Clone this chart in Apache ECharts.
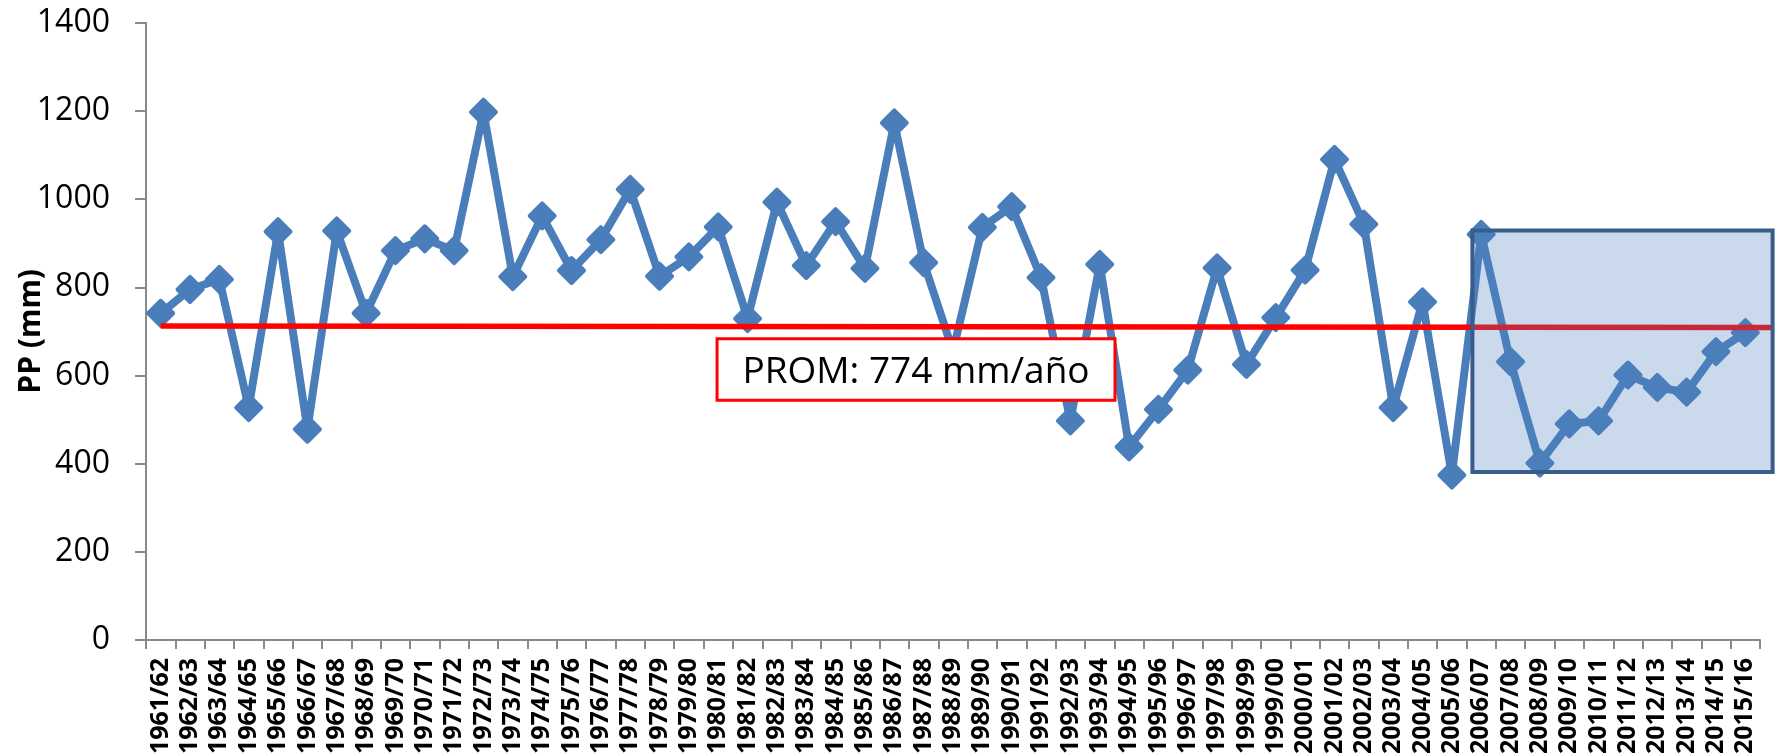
<!DOCTYPE html>
<html>
<head>
<meta charset="utf-8">
<script src="https://cdn.jsdelivr.net/npm/echarts@6/dist/echarts.min.js"></script>
<style>html,body{margin:0;padding:0;background:#fff;}#c{width:1777px;height:756px;}</style>
</head>
<body>
<div id="c"></div>
<script>
const categories = ['1961/62','1962/63','1963/64','1964/65','1965/66','1966/67','1967/68','1968/69','1969/70','1970/71',
  '1971/72','1972/73','1973/74','1974/75','1975/76','1976/77','1977/78','1978/79','1979/80','1980/81',
  '1981/82','1982/83','1983/84','1984/85','1985/86','1986/87','1987/88','1988/89','1989/90','1990/91',
  '1991/92','1992/93','1993/94','1994/95','1995/96','1996/97','1997/98','1998/99','1999/00','2000/01',
  '2001/02','2002/03','2003/04','2004/05','2005/06','2006/07','2007/08','2008/09','2009/10','2010/11',
  '2011/12','2012/13','2013/14','2014/15','2015/16'];
const ppValues = [741,795,818,527,926,478,928,741,883,910,
  883,1197,824,962,838,908,1022,825,869,937,
  729,993,849,949,843,1173,856,655,936,983,
  822,497,852,438,523,612,844,625,731,839,
  1090,943,527,767,374,920,631,401,490,497,
  601,573,562,654,697];
const yMin = 0, yMax = 1400, yStep = 200;
const yAxisName = 'PP (mm)';
const avgLabel = 'PROM: 774 mm/año';
// annotation anchors in data space: [category index, value]
const trendLineStart = [0, 712];
const trendLineEnd = [54.9, 709];
const highlightX = [44.7, 54.93];
const highlightY = [381, 929];
const avgBoxX = [18.96, 32.52];
const avgBoxY = [544, 683];

const chart = echarts.init(document.getElementById('c'), null, {renderer: 'canvas', width: 1777, height: 756});
const axisGray = '#8a8a8a';
const blue = '#4A7EBB';
chart.setOption({
  animation: false,
  backgroundColor: '#ffffff',
  grid: {left: 146, right: 17, top: 22.7, bottom: 116, containLabel: false, outerBoundsMode: 'none'},
  xAxis: {
    type: 'category',
    data: categories,
    boundaryGap: true,
    axisLine: {show: true, lineStyle: {color: axisGray, width: 2}},
    axisTick: {show: true, length: 9, interval: 0, lineStyle: {color: axisGray, width: 2}},
    axisLabel: {interval: 0, rotate: 90, margin: 18, color: '#000', fontFamily: 'Open Sans', fontWeight: 'bold', fontSize: 25},
    splitLine: {show: false}
  },
  yAxis: {
    type: 'value',
    min: yMin, max: yMax, interval: yStep,
    name: yAxisName,
    nameLocation: 'middle',
    nameGap: 100,
    nameMoveOverlap: false,
    nameRotate: 90,
    nameTextStyle: {color: '#000', fontFamily: 'Open Sans', fontWeight: 'bold', fontSize: 30},
    axisLine: {show: true, lineStyle: {color: axisGray, width: 2}},
    axisTick: {show: true, length: 11, lineStyle: {color: axisGray, width: 2}},
    axisLabel: {margin: 36, color: '#000', fontFamily: 'Open Sans', fontSize: 32, formatter: function (v) { return String(v); }},
    splitLine: {show: false}
  },
  series: [{
    type: 'line',
    data: ppValues,
    symbol: 'diamond',
    symbolSize: 25,
    showAllSymbol: true,
    lineStyle: {color: blue, width: 8, join: 'round'},
    itemStyle: {color: blue, borderColor: blue, borderWidth: 4, borderJoin: 'round'},
    z: 2
  }]
});

function toPx(idx, val) {
  const a = chart.convertToPixel({xAxisIndex: 0, yAxisIndex: 0}, [0, val]);
  const b = chart.convertToPixel({xAxisIndex: 0, yAxisIndex: 0}, [1, val]);
  return [a[0] + idx * (b[0] - a[0]), a[1]];
}
const t0 = toPx(trendLineStart[0], trendLineStart[1]);
const t1 = toPx(trendLineEnd[0], trendLineEnd[1]);
const hA = toPx(highlightX[0], highlightY[1]);
const hB = toPx(highlightX[1], highlightY[0]);
const bA = toPx(avgBoxX[0], avgBoxY[1]);
const bB = toPx(avgBoxX[1], avgBoxY[0]);

chart.setOption({
  graphic: [
    {type: 'line', z: 10, shape: {x1: t0[0], y1: t0[1], x2: t1[0], y2: t1[1]}, style: {stroke: '#ff0000', lineWidth: 5.5}},
    {type: 'rect', z: 11, shape: {x: hA[0], y: hA[1], width: hB[0] - hA[0], height: hB[1] - hA[1]},
      style: {fill: 'rgba(79,129,189,0.30)', stroke: '#385D8A', lineWidth: 4}},
    {type: 'rect', z: 12, shape: {x: bA[0], y: bA[1], width: bB[0] - bA[0], height: bB[1] - bA[1]},
      style: {fill: '#ffffff', stroke: '#ff0000', lineWidth: 3}},
    {type: 'text', z: 13, x: (bA[0] + bB[0]) / 2, y: (bA[1] + bB[1]) / 2 + 3,
      style: {text: avgLabel, font: '37px "Open Sans"', fill: '#000', align: 'center', verticalAlign: 'middle', textAlign: 'center', textVerticalAlign: 'middle'}}
  ]
});
</script>
</body>
</html>
